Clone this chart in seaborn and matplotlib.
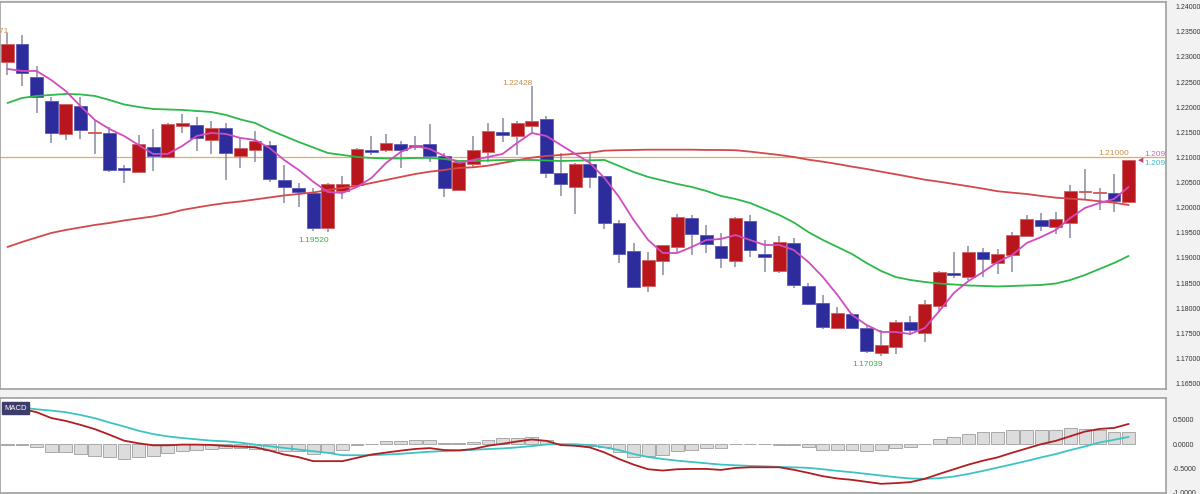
import matplotlib
matplotlib.use("Agg")
import matplotlib.pyplot as plt
import seaborn as sns
import numpy as np

# daily candles (open, high, low, close)
opens = [1.22905, 1.23258, 1.22601, 1.22123, 1.21466, 1.22024, 1.21486, 1.21492, 1.20790, 1.20710,
         1.21208, 1.21009, 1.21626, 1.21646, 1.21347, 1.21586, 1.21029, 1.21148, 1.21248, 1.20551,
         1.20392, 1.20292, 1.19596, 1.20332, 1.20452, 1.21148, 1.21148, 1.21267, 1.21208, 1.21267,
         1.21029, 1.20352, 1.20869, 1.21108, 1.21506, 1.21427, 1.21626, 1.21765, 1.20690, 1.20412,
         1.20869, 1.20631, 1.19696, 1.19138, 1.18442, 1.18939, 1.19218, 1.19795, 1.19457, 1.19238,
         1.18939, 1.19735, 1.19079, 1.18740, 1.19298, 1.18442, 1.18104, 1.17606, 1.17885, 1.17606,
         1.17108, 1.17228, 1.17725, 1.17507, 1.18044, 1.18700, 1.18621, 1.19118, 1.18899, 1.19059,
         1.19437, 1.19755, 1.19616, 1.19696, 1.20312, 1.20292, 1.20292, 1.20113]
highs = [1.23471, 1.23437, 1.22820, 1.22203, 1.22063, 1.22203, 1.21745, 1.21606, 1.20850, 1.21447,
         1.21566, 1.21686, 1.21864, 1.21805, 1.21725, 1.21686, 1.21387, 1.21526, 1.21327, 1.20850,
         1.20492, 1.20392, 1.20492, 1.20631, 1.21188, 1.21427, 1.21466, 1.21327, 1.21427, 1.21666,
         1.21088, 1.20909, 1.21427, 1.21686, 1.21785, 1.21725, 1.22428, 1.21825, 1.21089, 1.20889,
         1.21108, 1.20631, 1.19755, 1.19298, 1.19118, 1.19258, 1.19875, 1.19855, 1.19656, 1.19497,
         1.19815, 1.19855, 1.19357, 1.19437, 1.19397, 1.18502, 1.18263, 1.18024, 1.17904, 1.17646,
         1.17566, 1.17765, 1.17845, 1.18163, 1.18740, 1.19118, 1.19238, 1.19198, 1.19178, 1.19516,
         1.19855, 1.19894, 1.19914, 1.20452, 1.20770, 1.20392, 1.20670, 1.20950]
lows = [1.22641, 1.22422, 1.21884, 1.21287, 1.21347, 1.21367, 1.21069, 1.20710, 1.20492, 1.20710,
        1.20730, 1.21009, 1.21486, 1.21128, 1.21069, 1.20551, 1.20790, 1.20909, 1.20511, 1.20093,
        1.20014, 1.19540, 1.19520, 1.20173, 1.20432, 1.21049, 1.21108, 1.20790, 1.21148, 1.20909,
        1.20213, 1.20332, 1.20810, 1.20909, 1.21308, 1.21049, 1.21486, 1.20591, 1.20233, 1.19875,
        1.20392, 1.19576, 1.18900, 1.18422, 1.18325, 1.18661, 1.19118, 1.19059, 1.19099, 1.18800,
        1.18820, 1.19019, 1.18720, 1.18700, 1.18402, 1.18064, 1.17586, 1.17586, 1.17586, 1.17108,
        1.17039, 1.17088, 1.17467, 1.17328, 1.17925, 1.18601, 1.18561, 1.18621, 1.18680, 1.18720,
        1.19437, 1.19536, 1.19477, 1.19397, 1.20173, 1.19954, 1.19914, 1.20093]
closes = [1.23258, 1.22680, 1.22203, 1.21486, 1.22063, 1.21546, 1.21512, 1.20750, 1.20750, 1.21267,
          1.21029, 1.21666, 1.21686, 1.21387, 1.21586, 1.21088, 1.21188, 1.21327, 1.20571, 1.20412,
          1.20312, 1.19596, 1.20473, 1.20473, 1.21168, 1.21108, 1.21287, 1.21148, 1.21248, 1.21029,
          1.20392, 1.20909, 1.21148, 1.21526, 1.21447, 1.21686, 1.21725, 1.20690, 1.20472, 1.20869,
          1.20611, 1.19696, 1.19079, 1.18422, 1.18959, 1.19258, 1.19815, 1.19477, 1.19278, 1.19000,
          1.19795, 1.19158, 1.19019, 1.19318, 1.18462, 1.18084, 1.17626, 1.17904, 1.17606, 1.17148,
          1.17268, 1.17725, 1.17566, 1.18084, 1.18720, 1.18661, 1.19118, 1.18979, 1.19079, 1.19457,
          1.19775, 1.19636, 1.19775, 1.20332, 1.20332, 1.20312, 1.20133, 1.20950]

# moving averages as shown on the chart
ma_fast = [1.22760, 1.22720, 1.22720, 1.22541, 1.22322, 1.22024, 1.21745, 1.21566, 1.21427, 1.21248,
           1.21069, 1.21069, 1.21228, 1.21427, 1.21486, 1.21466, 1.21387, 1.21347, 1.21188, 1.20949,
           1.20750, 1.20515, 1.20312, 1.20292, 1.20412, 1.20591, 1.20889, 1.21108, 1.21228, 1.21168,
           1.21029, 1.20889, 1.20949, 1.21009, 1.21069, 1.21287, 1.21486, 1.21427, 1.21248, 1.21069,
           1.20889, 1.20591, 1.20213, 1.19755, 1.19357, 1.19098, 1.19098, 1.19218, 1.19357, 1.19377,
           1.19456, 1.19357, 1.19258, 1.19258, 1.19158, 1.18920, 1.18620, 1.18263, 1.17865, 1.17666,
           1.17526, 1.17526, 1.17487, 1.17606, 1.17944, 1.18303, 1.18541, 1.18720, 1.18920, 1.19058,
           1.19297, 1.19417, 1.19556, 1.19795, 1.19994, 1.20093, 1.20173, 1.20412]
ma_mid = [1.22083, 1.22183, 1.22223, 1.22243, 1.22263, 1.22253, 1.22223, 1.22143, 1.22054, 1.22004,
          1.21964, 1.21954, 1.21944, 1.21924, 1.21904, 1.21845, 1.21755, 1.21686, 1.21546, 1.21427,
          1.21307, 1.21198, 1.21088, 1.21049, 1.21009, 1.20989, 1.20979, 1.20979, 1.20989, 1.20989,
          1.20969, 1.20929, 1.20929, 1.20939, 1.20949, 1.20949, 1.20949, 1.20939, 1.20929, 1.20935,
          1.20943, 1.20949, 1.20830, 1.20710, 1.20611, 1.20541, 1.20471, 1.20412, 1.20332, 1.20233,
          1.20173, 1.20093, 1.19974, 1.19855, 1.19706, 1.19515, 1.19357, 1.19218, 1.19078, 1.18899,
          1.18740, 1.18620, 1.18561, 1.18521, 1.18491, 1.18471, 1.18452, 1.18442, 1.18432, 1.18442,
          1.18452, 1.18462, 1.18491, 1.18561, 1.18660, 1.18780, 1.18899, 1.19039]
ma_slow = [1.19218, 1.19317, 1.19407, 1.19496, 1.19556, 1.19606, 1.19656, 1.19695, 1.19745, 1.19785,
           1.19825, 1.19880, 1.19954, 1.20004, 1.20053, 1.20093, 1.20123, 1.20163, 1.20203, 1.20243,
           1.20272, 1.20302, 1.20352, 1.20392, 1.20432, 1.20491, 1.20551, 1.20611, 1.20670, 1.20716,
           1.20750, 1.20790, 1.20804, 1.20836, 1.20889, 1.20943, 1.20995, 1.21029, 1.21049, 1.21074,
           1.21094, 1.21134, 1.21143, 1.21148, 1.21154, 1.21154, 1.21154, 1.21154, 1.21148, 1.21148,
           1.21143, 1.21115, 1.21082, 1.21049, 1.21009, 1.20955, 1.20915, 1.20869, 1.20816, 1.20770,
           1.20716, 1.20665, 1.20611, 1.20557, 1.20517, 1.20471, 1.20426, 1.20378, 1.20327, 1.20298,
           1.20272, 1.20233, 1.20199, 1.20179, 1.20159, 1.20127, 1.20099, 1.20053]

# MACD panel
macd_line = [0.740, 0.727, 0.660, 0.540, 0.480, 0.400, 0.310, 0.195, 0.072, 0.017,
             -0.024, -0.024, -0.010, -0.010, -0.017, -0.038, -0.051, -0.065, -0.133, -0.215,
             -0.270, -0.352, -0.352, -0.352, -0.283, -0.215, -0.174, -0.135, -0.100, -0.082,
             -0.123, -0.130, -0.100, -0.034, 0.007, 0.055, 0.096, 0.068, -0.020, -0.034,
             -0.068, -0.171, -0.307, -0.423, -0.519, -0.546, -0.519, -0.512, -0.512, -0.533,
             -0.492, -0.478, -0.478, -0.478, -0.530, -0.594, -0.663, -0.710, -0.738, -0.779,
             -0.820, -0.806, -0.786, -0.717, -0.615, -0.519, -0.423, -0.342, -0.273, -0.178,
             -0.089, 0.000, 0.068, 0.164, 0.260, 0.314, 0.335, 0.417]
macd_signal = [0.768, 0.754, 0.720, 0.693, 0.660, 0.604, 0.536, 0.447, 0.365, 0.277,
               0.208, 0.160, 0.126, 0.099, 0.072, 0.058, 0.031, -0.010, -0.044, -0.078,
               -0.113, -0.147, -0.181, -0.229, -0.229, -0.229, -0.215, -0.200, -0.178, -0.157,
               -0.143, -0.130, -0.116, -0.102, -0.089, -0.068, -0.041, -0.007, 0.000, -0.003,
               -0.020, -0.068, -0.123, -0.205, -0.266, -0.307, -0.342, -0.369, -0.396, -0.423,
               -0.437, -0.450, -0.458, -0.471, -0.480, -0.490, -0.519, -0.553, -0.581, -0.615,
               -0.649, -0.683, -0.710, -0.717, -0.704, -0.669, -0.615, -0.553, -0.485, -0.417,
               -0.348, -0.273, -0.205, -0.123, -0.048, 0.034, 0.089, 0.150]
macd_hist = [-0.020, -0.014, -0.068, -0.157, -0.171, -0.205, -0.239, -0.273, -0.307, -0.273,
             -0.253, -0.191, -0.137, -0.123, -0.102, -0.089, -0.089, -0.102, -0.123, -0.137,
             -0.150, -0.205, -0.171, -0.116, -0.020, 0.000, 0.055, 0.068, 0.082, 0.082,
             0.014, 0.014, 0.048, 0.082, 0.123, 0.123, 0.150, 0.082, 0.008, -0.008,
             -0.034, -0.068, -0.171, -0.260, -0.239, -0.225, -0.150, -0.116, -0.089, -0.082,
             -0.007, -0.005, -0.005, -0.008, -0.010, -0.068, -0.116, -0.116, -0.116, -0.150,
             -0.123, -0.082, -0.055, 0.000, 0.096, 0.150, 0.219, 0.246, 0.253, 0.287,
             0.300, 0.300, 0.287, 0.328, 0.307, 0.287, 0.260, 0.260]

price_ticks = [1.165, 1.170, 1.175, 1.180, 1.185, 1.190, 1.195, 1.200, 1.205,
               1.210, 1.215, 1.220, 1.225, 1.230, 1.235, 1.240]
macd_ticks = [-1.0, -0.5, 0.0, 0.5]
ref_level = 1.21000
last_price = 1.20950
swing_highs = [0, 36]   # candles whose highs are labelled
swing_lows = [22, 60]   # candles whose lows are labelled


def style_frame(a):
    for s in a.spines.values():
        s.set_color("#a0a0a0")
        s.set_linewidth(1.2)
        s.set_visible(True)


def main():
    sns.set_style("white")
    plt.rcParams["font.family"] = ["Liberation Sans", "DejaVu Sans"]

    fig = plt.figure(figsize=(12, 4.94), dpi=100, facecolor="#f2f2f2")
    ax = fig.add_axes([0.0, 0.2126, 0.9717, 0.7834])
    ax_m = fig.add_axes([0.0, 0.003, 0.9717, 0.1913])

    idx = np.arange(len(opens))
    o = np.array(opens)
    c = np.array(closes)
    up = c >= o
    body_col = np.where(up, "#b8161c", "#2c2c9c")
    edge_col = np.where(up, "#d06060", "#5a5ab8")

    # candles
    ax.vlines(idx, lows, highs, color="#8a8aa2", lw=1.1, zorder=2)
    ax.bar(idx, np.abs(c - o), bottom=np.minimum(o, c), width=0.88,
           color=body_col, edgecolor=edge_col, linewidth=0.6, zorder=3)

    ax.axhline(ref_level, color="#f0a850", lw=0.9, zorder=1)

    sns.lineplot(x=idx, y=ma_slow, ax=ax, color="#d4484a", lw=1.3, zorder=4)
    sns.lineplot(x=idx, y=ma_mid, ax=ax, color="#2db84a", lw=1.3, zorder=4)
    sns.lineplot(x=idx, y=ma_fast, ax=ax, color="#d04cc0", lw=1.3, zorder=5)

    ax.set_xlim(-0.515, 79.57)
    ax.set_ylim(1.16392, 1.24093)
    ax.set_xticks([])
    ax.yaxis.tick_right()
    ax.set_yticks(price_ticks)
    ax.set_yticklabels([f"{t:.5f}" for t in price_ticks])
    ax.tick_params(axis="y", length=0, pad=7, labelsize=5, labelcolor="#333333")
    ax.set_facecolor("white")
    style_frame(ax)

    # labels on swing highs / lows
    for hi in swing_highs:
        ax.annotate(f"{highs[hi]:.5f}", xy=(hi, highs[hi]), xytext=(1, 1.5),
                    textcoords="offset points", ha="right", va="center",
                    fontsize=6, color="#c8904a")
    for li in swing_lows:
        ax.annotate(f"{lows[li]:.5f}", xy=(li, lows[li]), xytext=(1, -6),
                    textcoords="offset points", ha="right", va="center",
                    fontsize=6, color="#3aae48")
    last = len(opens) - 1
    ax.annotate(f"{ref_level:.5f}", xy=(last, ref_level), xytext=(0, 3),
                textcoords="offset points", ha="right", va="center",
                fontsize=6, color="#c8904a")
    ax.annotate("\u25c0", xy=(last, last_price), xytext=(9, 0),
                textcoords="offset points", ha="center", va="center",
                fontsize=5, color="#c04070", family="DejaVu Sans")
    ax.annotate(f"{last_price:.4f}", xy=(last, last_price), xytext=(11.5, 3.6),
                textcoords="offset points", ha="left", va="center",
                fontsize=6, color="#b870a8", annotation_clip=False, clip_on=True)
    ax.annotate(f"{last_price:.4f}", xy=(last, last_price), xytext=(11.5, -2.4),
                textcoords="offset points", ha="left", va="center",
                fontsize=6, color="#40b8c8", annotation_clip=False, clip_on=True)

    # MACD panel
    ax_m.bar(idx, macd_hist, width=0.88, color="#dcdcdc",
             edgecolor="#a8a8a8", linewidth=0.7, zorder=2)
    sns.lineplot(x=idx, y=macd_signal, ax=ax_m, color="#3cc4c4", lw=1.3, zorder=3)
    sns.lineplot(x=idx, y=macd_line, ax=ax_m, color="#b01e22", lw=1.3, zorder=4)
    ax_m.set_xlim(-0.515, 79.57)
    ax_m.set_ylim(-0.984, 0.953)
    ax_m.set_xticks([])
    ax_m.yaxis.tick_right()
    ax_m.set_yticks(macd_ticks)
    ax_m.set_yticklabels([f"{t:.4f}" for t in macd_ticks])
    ax_m.tick_params(axis="y", length=0, pad=5, labelsize=5, labelcolor="#333333")
    ax_m.set_facecolor("white")
    style_frame(ax_m)
    ax_m.text(0.004, 0.93, "MACD", transform=ax_m.transAxes, ha="left", va="top",
              fontsize=5.5, color="white", zorder=6,
              bbox=dict(boxstyle="square,pad=0.3", fc="#3d3d6b", ec="#3d3d6b"))

    fig.savefig("out.png", dpi=100, facecolor=fig.get_facecolor())


if __name__ == "__main__":
    main()
